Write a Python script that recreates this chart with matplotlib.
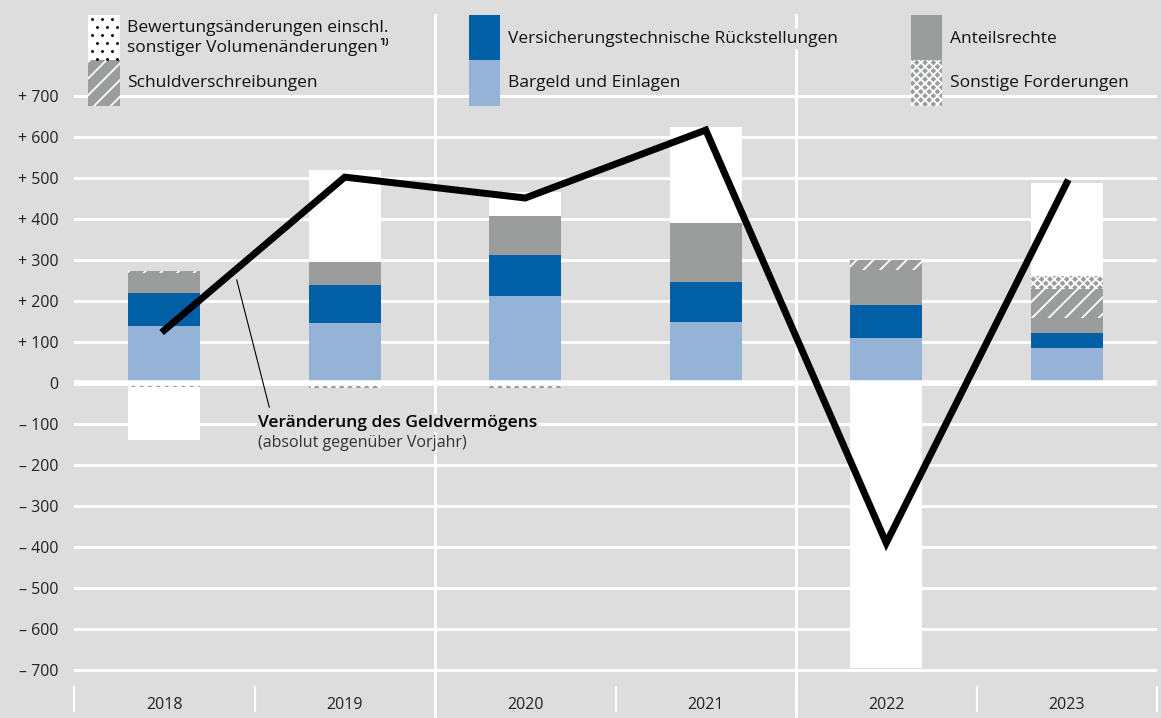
import matplotlib
matplotlib.use("Agg")
import matplotlib.pyplot as plt
import numpy as np
from matplotlib.patches import Rectangle
from matplotlib.lines import Line2D

W, H = 1161, 718

years = ['2018', '2019', '2020', '2021', '2022', '2023']
bargeld = [140, 147, 212, 149, 110, 85]
versicherung = [80, 92, 100, 98, 80, 37]
anteilsrechte = [49, 57, 95, 143, 86, 36]
schuldverschr = [5, 0, 0, 0, 24, 71]
sonstige = [-10, -11, -12, -3, 0, 32]
bewertung = [-129, 224, 60, 236, -696, 227]
geldvermoegen = [129, 503, 452, 618, -391, 489]

BG = '#dcdddc'
C_BARGELD = '#95b2d7'
C_VERS = '#005fa5'
C_GRAY = '#9b9d9c'

FONT = ['Open Sans', 'DejaVu Sans']
plt.rcParams['font.family'] = FONT
plt.rcParams['hatch.linewidth'] = 1.3


def fx(x):
    return x / W


def fy(y):
    return 1 - y / H


fig = plt.figure(figsize=(W / 100, H / 100), dpi=100)
fig.patch.set_facecolor(BG)
left, right, top, bottom = 74, 1157, 15, 686
ax = fig.add_axes([fx(left), fy(bottom), fx(right - left), (bottom - top) / H])
ax.set_facecolor(BG)
for s in ax.spines.values():
    s.set_visible(False)

zero_px, scale = 383, 0.4093
ax.set_xlim(-0.5, 5.5)
ax.set_ylim((zero_px - bottom) / scale, (zero_px - top) / scale)

x = np.arange(len(years))
width = 0.4

pos_bottom = np.zeros(len(years))
neg_bottom = np.zeros(len(years))


def stack(vals, **kw):
    vals = np.array(vals, dtype=float)
    b = np.where(vals >= 0, pos_bottom, neg_bottom)
    ax.bar(x, vals, width, bottom=b, linewidth=0, zorder=3, **kw)
    pos_bottom[:] += np.where(vals > 0, vals, 0)
    neg_bottom[:] += np.where(vals < 0, vals, 0)


stack(bargeld, color=C_BARGELD)
stack(versicherung, color=C_VERS)
stack(anteilsrechte, color=C_GRAY)
stack(schuldverschr, color=C_GRAY, hatch='//', edgecolor='white')
stack(sonstige, color=C_GRAY, hatch='xxxx', edgecolor='white')
stack(bewertung, color='white')

ax.plot(x, geldvermoegen, color='black', linewidth=5, zorder=5,
        solid_joinstyle='miter')

# grid
yt = np.arange(-700, 701, 100)
ax.set_yticks(yt)
ax.set_yticklabels([('+ %d' % v) if v > 0 else ('0' if v == 0 else '– %d' % -v)
                    for v in yt], fontsize=11.5, color='#222222')
for v in yt:
    if v == 0:
        ax.axhline(0, color='white', linewidth=4, zorder=4)
    else:
        ax.axhline(v, color='white', linewidth=2.2, zorder=1)
ext = (H - bottom) / (bottom - top)
for xv in [1.5, 3.5]:
    ax.axvline(xv, ymin=-ext, ymax=1, color='white', linewidth=2.2,
               zorder=1, clip_on=False)

ax.tick_params(axis='y', length=0, pad=11)
ax.set_xticks(x)
ax.set_xticklabels(years, fontsize=11.5, color='#222222')
ax.set_xticks(np.arange(-0.5, 5.6, 1), minor=True)
ax.tick_params(axis='x', which='major', length=0, pad=8)
ax.tick_params(axis='x', which='minor', length=19, width=1.6,
               color='white', direction='out')

# annotation
ax.annotate('', xy=(-0.5 + (236 - left) / 180.5, (zero_px - 277) / scale),
            xytext=(-0.5 + (270 - left) / 180.5, (zero_px - 410) / scale),
            arrowprops=dict(arrowstyle='-', color='black', linewidth=0.8),
            zorder=6)
tx = -0.5 + (258 - left) / 180.5
ax.text(tx, (zero_px - 423) / scale, 'Veränderung des Geldvermögens',
        fontsize=12.5, fontweight='semibold', va='center', ha='left', zorder=6,
        bbox=dict(facecolor=BG, edgecolor='none', pad=1))
ax.text(tx, (zero_px - 443) / scale, '(absolut gegenüber Vorjahr)',
        fontsize=11.5, va='center', ha='left', color='#333333', zorder=6)


# legend
def patch(x0, y0, x1, y1, **kw):
    fig.patches.append(Rectangle((fx(x0), fy(y1)), fx(x1 - x0), (y1 - y0) / H,
                                 transform=fig.transFigure, linewidth=0,
                                 zorder=10, **kw))


def label(xp, yp, s, **kw):
    return fig.text(fx(xp), fy(yp), s, fontsize=12.5, va='center', ha='left',
                    color='#111111', zorder=11,
                    bbox=dict(facecolor=BG, edgecolor='none', pad=1.5), **kw)


patch(88, 15, 120, 60, facecolor='white')
dots_x, dots_y = [], []
for i, yy in enumerate(np.arange(19, 60, 8)):
    off = 0 if i % 2 == 0 else 5
    for xx in np.arange(92 + off, 119, 10):
        dots_x.append(fx(xx))
        dots_y.append(fy(yy))
fig.add_artist(Line2D(dots_x, dots_y, linestyle='none', marker='o',
                      markersize=1.1, color='black', transform=fig.transFigure,
                      zorder=11))
patch(88, 60, 120, 106, facecolor=C_GRAY, hatch='//', edgecolor='white')
patch(469, 15, 500, 60, facecolor=C_VERS)
patch(469, 60, 500, 106, facecolor=C_BARGELD)
patch(911, 15, 942, 60, facecolor=C_GRAY)
patch(911, 60, 942, 106, facecolor=C_GRAY, hatch='xxxx', edgecolor='white')

label(127, 28, 'Bewertungsänderungen einschl.')
t = label(127, 48, 'sonstiger Volumenänderungen')
label(127, 83, 'Schuldverschreibungen')
label(508, 39, 'Versicherungstechnische Rückstellungen')
label(508, 83, 'Bargeld und Einlagen')
label(950, 39, 'Anteilsrechte')
label(950, 83, 'Sonstige Forderungen')

fig.canvas.draw()
bb = t.get_window_extent()
fig.text(bb.x1 / W + 0.001, fy(43), '1)', fontsize=7.5, fontweight='bold',
         va='center', ha='left', color='#111111')

fig.savefig('out.png', dpi=100, facecolor=BG)
